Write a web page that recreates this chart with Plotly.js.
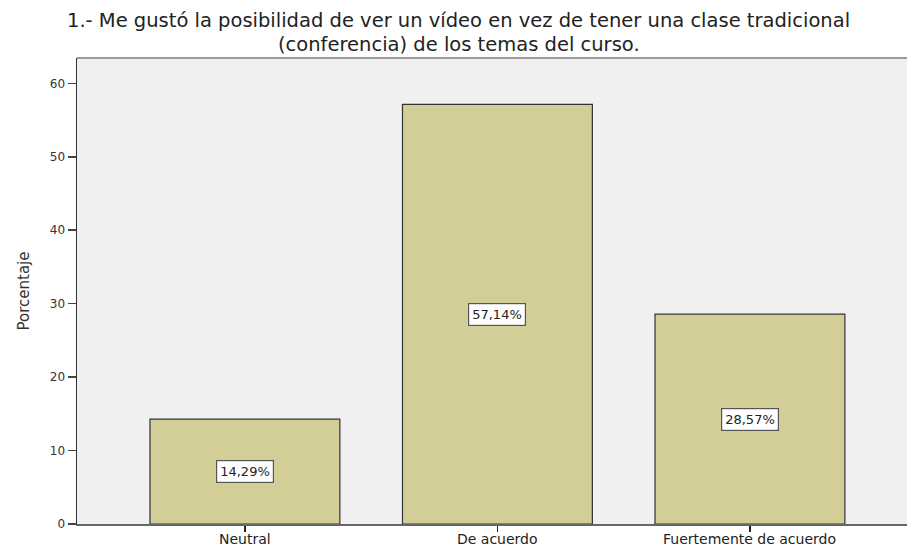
<!DOCTYPE html>
<html>
<head>
<meta charset="utf-8">
<script src="https://cdn.plot.ly/plotly-3.0.1.min.js"></script>
<style>html,body{margin:0;padding:0;background:#fff;}#chart{width:907px;height:549px;}</style>
</head>
<body>
<div id="chart"></div>
<script>
const categories = ["Neutral", "De acuerdo", "Fuertemente de acuerdo"];
const values = [14.29, 57.14, 28.57];
const valueLabels = ["14,29%", "57,14%", "28,57%"];
const yTicks = [0, 10, 20, 30, 40, 50, 60];
const titleLines = [
  "1.- Me gustó la posibilidad de ver un vídeo en vez de tener una clase tradicional",
  "(conferencia) de los temas del curso."
];

const FONT = "DejaVu Sans, Arial, sans-serif";

const trace = {
  type: "bar",
  x: categories,
  y: values,
  width: 0.752,
  marker: { color: "#D3CE98", line: { color: "#333333", width: 1.2 } },
  hoverinfo: "none"
};

const labelAnnotations = categories.map((c, i) => ({
  x: c, y: values[i] / 2, xref: "x", yref: "y",
  text: valueLabels[i], showarrow: false,
  bgcolor: "#ffffff", bordercolor: "#555555", borderwidth: 1.2, borderpad: 3,
  font: { family: FONT, size: 13, color: "#222" }
}));

const catAnnotations = categories.map((c) => ({
  x: c, xref: "x", yref: "paper", y: -0.0330,
  xanchor: "center", yanchor: "middle",
  text: c, showarrow: false, borderpad: 0,
  font: { family: FONT, size: 14, color: "#222" }
}));

const titleAnnotations = titleLines.map((t, i) => ({
  xref: "paper", yref: "paper", x: 0.460, y: i === 0 ? 1.0794 : 1.0279,
  xanchor: "center", yanchor: "middle",
  text: t, showarrow: false, borderpad: 0,
  font: { family: FONT, size: 19.5, color: "#222" }
}));

const layout = {
  width: 907, height: 549,
  margin: { l: 77, r: 0, t: 58, b: 25 },
  paper_bgcolor: "#ffffff",
  plot_bgcolor: "#F0F0F0",
  showlegend: false,
  xaxis: {
    type: "category",
    range: [-0.665, 2.622],
    showgrid: false, zeroline: false,
    showline: true, linecolor: "#666666", linewidth: 1.5,
    ticks: "outside", ticklen: 6, tickcolor: "#222", tickwidth: 1.5,
    showticklabels: false,
    fixedrange: true
  },
  yaxis: {
    range: [0, 63.45],
    tickvals: yTicks,
    showgrid: false, zeroline: false,
    showline: true, linecolor: "#333333", linewidth: 1.5,
    ticks: "outside", ticklen: 8, tickcolor: "#444", tickwidth: 1.5,
    tickfont: { family: FONT, size: 12, color: "#333" },
    title: { text: "Porcentaje", standoff: 16, font: { family: FONT, size: 15, color: "#333" } },
    fixedrange: true
  },
  shapes: [
    { type: "line", xref: "paper", yref: "paper", x0: 0, x1: 1, y0: 1, y1: 1, line: { color: "#9a9a9a", width: 2 } }
  ],
  annotations: titleAnnotations.concat(catAnnotations, labelAnnotations)
};

Plotly.newPlot("chart", [trace], layout, { displayModeBar: false, staticPlot: true });
</script>
</body>
</html>
